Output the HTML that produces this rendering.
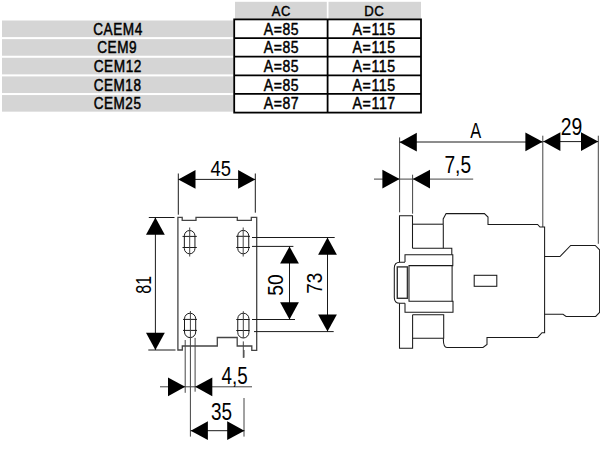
<!DOCTYPE html>
<html><head><meta charset="utf-8"><style>
html,body{margin:0;padding:0;background:#fff;width:600px;height:456px;overflow:hidden}
svg{display:block}
text{font-family:"Liberation Sans",sans-serif}
</style></head><body>
<svg width="600" height="456" viewBox="0 0 600 456">
<rect x="235" y="1.8" width="91.8" height="17.2" fill="#d5d5d5"/>
<rect x="328.5" y="1.8" width="92.5" height="17.2" fill="#d5d5d5"/>
<rect x="2" y="20.50" width="231.5" height="16.6" fill="#d5d5d5"/>
<rect x="2" y="39.14" width="231.5" height="16.6" fill="#d5d5d5"/>
<rect x="2" y="57.78" width="231.5" height="16.6" fill="#d5d5d5"/>
<rect x="2" y="76.42" width="231.5" height="16.6" fill="#d5d5d5"/>
<rect x="2" y="95.06" width="231.5" height="16.6" fill="#d5d5d5"/>
<rect x="234.2" y="19.4" width="186.8" height="93.20" fill="#fff" stroke="#000" stroke-width="1.8"/>
<line x1="234.2" y1="38.04" x2="421" y2="38.04" stroke="#000" stroke-width="1.8"/>
<line x1="234.2" y1="56.68" x2="421" y2="56.68" stroke="#000" stroke-width="1.8"/>
<line x1="234.2" y1="75.32" x2="421" y2="75.32" stroke="#000" stroke-width="1.8"/>
<line x1="234.2" y1="93.96" x2="421" y2="93.96" stroke="#000" stroke-width="1.8"/>
<line x1="327.6" y1="19.4" x2="327.6" y2="112.60" stroke="#000" stroke-width="1.8"/>
<text x="0" y="0" font-size="100" font-weight="normal" stroke="#000" stroke-width="3" letter-spacing="4" transform="matrix(0.13592,0,0,0.16438,93.206,34.671)">CAEM4</text>
<text x="0" y="0" font-size="100" font-weight="normal" stroke="#000" stroke-width="3" letter-spacing="4" transform="matrix(0.13992,0,0,0.16438,263.780,34.671)">A=85</text>
<text x="0" y="0" font-size="100" font-weight="normal" stroke="#000" stroke-width="3" letter-spacing="4" transform="matrix(0.14167,0,0,0.16667,352.583,34.667)">A=115</text>
<text x="0" y="0" font-size="100" font-weight="normal" stroke="#000" stroke-width="3" letter-spacing="4" transform="matrix(0.13604,0,0,0.16438,97.256,53.311)">CEM9</text>
<text x="0" y="0" font-size="100" font-weight="normal" stroke="#000" stroke-width="3" letter-spacing="4" transform="matrix(0.13992,0,0,0.16438,263.780,53.311)">A=85</text>
<text x="0" y="0" font-size="100" font-weight="normal" stroke="#000" stroke-width="3" letter-spacing="4" transform="matrix(0.14167,0,0,0.16667,352.583,53.307)">A=115</text>
<text x="0" y="0" font-size="100" font-weight="normal" stroke="#000" stroke-width="3" letter-spacing="4" transform="matrix(0.13655,0,0,0.16438,93.654,71.951)">CEM12</text>
<text x="0" y="0" font-size="100" font-weight="normal" stroke="#000" stroke-width="3" letter-spacing="4" transform="matrix(0.13992,0,0,0.16438,263.780,71.951)">A=85</text>
<text x="0" y="0" font-size="100" font-weight="normal" stroke="#000" stroke-width="3" letter-spacing="4" transform="matrix(0.14167,0,0,0.16667,352.583,71.947)">A=115</text>
<text x="0" y="0" font-size="100" font-weight="normal" stroke="#000" stroke-width="3" letter-spacing="4" transform="matrix(0.13538,0,0,0.16438,93.658,90.591)">CEM18</text>
<text x="0" y="0" font-size="100" font-weight="normal" stroke="#000" stroke-width="3" letter-spacing="4" transform="matrix(0.13992,0,0,0.16438,263.780,90.591)">A=85</text>
<text x="0" y="0" font-size="100" font-weight="normal" stroke="#000" stroke-width="3" letter-spacing="4" transform="matrix(0.14167,0,0,0.16667,352.583,90.587)">A=115</text>
<text x="0" y="0" font-size="100" font-weight="normal" stroke="#000" stroke-width="3" letter-spacing="4" transform="matrix(0.13528,0,0,0.16438,93.659,109.231)">CEM25</text>
<text x="0" y="0" font-size="100" font-weight="normal" stroke="#000" stroke-width="3" letter-spacing="4" transform="matrix(0.14049,0,0,0.16438,263.781,109.231)">A=87</text>
<text x="0" y="0" font-size="100" font-weight="normal" stroke="#000" stroke-width="3" letter-spacing="4" transform="matrix(0.14214,0,0,0.16667,352.584,109.393)">A=117</text>
<text x="0" y="0" font-size="100" font-weight="normal" stroke="#000" stroke-width="3" letter-spacing="4" transform="matrix(0.12937,0,0,0.15342,271.759,15.693)">AC</text>
<text x="0" y="0" font-size="100" font-weight="normal" stroke="#000" stroke-width="3" letter-spacing="4" transform="matrix(0.13165,0,0,0.15479,364.178,15.690)">DC</text>
<path d="M177.9,350 L177.9,217.3 L182.2,217.3 L182.2,220.4 L196,220.4 L196,217.3 L237.3,217.3 L237.3,220.4 L251.3,220.4 L251.3,217.3 L256.7,217.3 L256.7,350.3 L251.8,350.3 L251.8,346 L237.2,346 L237.2,337.5 L217.3,337.5 L217.3,346 L182.3,346 L182.3,350 Z" fill="none" stroke="#444" stroke-width="1.3" stroke-linejoin="miter"/>
<path d="M184.35,235.8 A5.3,5.3 0 0 1 194.95000000000002,235.8 L194.95000000000002,248.5 A5.3,5.3 0 0 1 184.35,248.5 Z" fill="none" stroke="#1a1a1a" stroke-width="1.0" stroke-linejoin="miter"/>
<path d="M237.75,235.9 A5.5,5.5 0 0 1 248.75,235.9 L248.75,248.3 A5.5,5.5 0 0 1 237.75,248.3 Z" fill="none" stroke="#1a1a1a" stroke-width="1.0" stroke-linejoin="miter"/>
<path d="M184.5,318.8 A5.6,5.6 0 0 1 195.7,318.8 L195.7,332.0 A5.6,5.6 0 0 1 184.5,332.0 Z" fill="none" stroke="#1a1a1a" stroke-width="1.0" stroke-linejoin="miter"/>
<path d="M237.75,318.8 A5.6,5.6 0 0 1 248.95,318.8 L248.95,332.4 A5.6,5.6 0 0 1 237.75,332.4 Z" fill="none" stroke="#1a1a1a" stroke-width="1.0" stroke-linejoin="miter"/>
<line x1="182.5" y1="236.4" x2="196.8" y2="236.4" stroke="#1a1a1a" stroke-width="1.0"/>
<line x1="182.5" y1="247.5" x2="196.8" y2="247.5" stroke="#1a1a1a" stroke-width="1.0"/>
<line x1="236.2" y1="236.3" x2="250" y2="236.3" stroke="#1a1a1a" stroke-width="1.0"/>
<line x1="236.2" y1="247.5" x2="250" y2="247.5" stroke="#1a1a1a" stroke-width="1.0"/>
<line x1="183" y1="319.4" x2="197" y2="319.4" stroke="#1a1a1a" stroke-width="1.0"/>
<line x1="183" y1="330.4" x2="197" y2="330.4" stroke="#1a1a1a" stroke-width="1.0"/>
<line x1="236.3" y1="319.5" x2="249.7" y2="319.5" stroke="#1a1a1a" stroke-width="1.0"/>
<line x1="236.3" y1="330.5" x2="249.7" y2="330.5" stroke="#1a1a1a" stroke-width="1.0"/>
<line x1="189.7" y1="227.5" x2="189.7" y2="256.5" stroke="#444" stroke-width="1.0"/>
<line x1="243.2" y1="227.5" x2="243.2" y2="256.5" stroke="#444" stroke-width="1.0"/>
<line x1="190.4" y1="311" x2="190.4" y2="436.6" stroke="#444" stroke-width="1.0"/>
<line x1="243.3" y1="311.2" x2="243.3" y2="338" stroke="#444" stroke-width="1.0"/>
<line x1="243.3" y1="341.4" x2="243.3" y2="357.9" stroke="#444" stroke-width="1.0"/>
<line x1="178.3" y1="173.5" x2="178.3" y2="214.7" stroke="#1a1a1a" stroke-width="1.0"/>
<line x1="255.3" y1="173.5" x2="255.3" y2="212.7" stroke="#1a1a1a" stroke-width="1.0"/>
<line x1="178.3" y1="179.4" x2="255.3" y2="179.4" stroke="#1a1a1a" stroke-width="1.0"/>
<polygon points="178.3,179.4 195.5,170.0 195.5,188.8" fill="#000"/>
<polygon points="255.3,179.4 238.10000000000002,170.0 238.10000000000002,188.8" fill="#000"/>
<line x1="148.8" y1="217.5" x2="174.5" y2="217.5" stroke="#1a1a1a" stroke-width="1.0"/>
<line x1="148.3" y1="350" x2="175.5" y2="350" stroke="#1a1a1a" stroke-width="1.0"/>
<line x1="155.4" y1="217.5" x2="155.4" y2="350" stroke="#1a1a1a" stroke-width="1.0"/>
<polygon points="155.4,217.5 146.0,234.7 164.8,234.7" fill="#000"/>
<polygon points="155.4,350 146.0,332.8 164.8,332.8" fill="#000"/>
<line x1="252" y1="237.5" x2="334.7" y2="237.5" stroke="#1a1a1a" stroke-width="1.0"/>
<line x1="252" y1="246.4" x2="293.4" y2="246.4" stroke="#1a1a1a" stroke-width="1.0"/>
<line x1="252" y1="319.5" x2="295" y2="319.5" stroke="#1a1a1a" stroke-width="1.0"/>
<line x1="254" y1="331.6" x2="333.7" y2="331.6" stroke="#1a1a1a" stroke-width="1.0"/>
<line x1="289.5" y1="246.4" x2="289.5" y2="319.5" stroke="#1a1a1a" stroke-width="1.0"/>
<polygon points="289.5,246.4 280.1,263.6 298.9,263.6" fill="#000"/>
<polygon points="289.5,319.5 280.1,302.3 298.9,302.3" fill="#000"/>
<line x1="327.5" y1="237.5" x2="327.5" y2="331.6" stroke="#1a1a1a" stroke-width="1.0"/>
<polygon points="327.5,237.5 318.1,254.7 336.9,254.7" fill="#000"/>
<polygon points="327.5,331.6 318.1,314.40000000000003 336.9,314.40000000000003" fill="#000"/>
<line x1="185.2" y1="340" x2="185.2" y2="392.8" stroke="#444" stroke-width="1.0"/>
<line x1="195.1" y1="337.9" x2="195.1" y2="391.7" stroke="#444" stroke-width="1.0"/>
<line x1="160" y1="386.8" x2="252" y2="386.8" stroke="#444" stroke-width="1.0"/>
<polygon points="185.2,386.8 168.0,377.40000000000003 168.0,396.2" fill="#000"/>
<polygon points="195.1,386.8 212.29999999999998,377.40000000000003 212.29999999999998,396.2" fill="#000"/>
<line x1="244" y1="398" x2="244" y2="436.6" stroke="#444" stroke-width="1.0"/>
<line x1="244" y1="350" x2="244" y2="357.7" stroke="#444" stroke-width="1.0"/>
<line x1="190.7" y1="430.7" x2="244.4" y2="430.7" stroke="#1a1a1a" stroke-width="1.0"/>
<polygon points="190.7,430.7 207.89999999999998,421.3 207.89999999999998,440.09999999999997" fill="#000"/>
<polygon points="244.4,430.7 227.20000000000002,421.3 227.20000000000002,440.09999999999997" fill="#000"/>
<text x="0" y="0" font-size="100" font-weight="normal" transform="matrix(0.18381,0,0,0.22143,210.432,175.879)">45</text>
<text x="0" y="0" font-size="100" font-weight="normal" transform="matrix(0,-0.15980,0.22817,0,151.272,293.739)">81</text>
<text x="0" y="0" font-size="100" font-weight="normal" transform="matrix(0,-0.19223,0.22958,0,283.070,295.769)">50</text>
<text x="0" y="0" font-size="100" font-weight="normal" transform="matrix(0,-0.18922,0.22958,0,321.570,293.646)">73</text>
<text x="0" y="0" font-size="100" font-weight="normal" transform="matrix(0.18797,0,0,0.23571,221.624,383.664)">4,5</text>
<text x="0" y="0" font-size="100" font-weight="normal" transform="matrix(0.18932,0,0,0.23099,211.043,420.069)">35</text>
<line x1="399.6" y1="137.4" x2="399.6" y2="212.3" stroke="#444" stroke-width="1.0"/>
<line x1="542.8" y1="135.7" x2="542.8" y2="227" stroke="#444" stroke-width="1.0"/>
<line x1="399.6" y1="142" x2="542.8" y2="142" stroke="#1a1a1a" stroke-width="1.0"/>
<polygon points="399.6,142.2 416.8,132.79999999999998 416.8,151.6" fill="#000"/>
<polygon points="542.6,141.8 525.4,132.4 525.4,151.20000000000002" fill="#000"/>
<text x="0" y="0" font-size="100" font-weight="normal" transform="matrix(0.16364,0,0,0.22029,470.200,138.100)">A</text>
<line x1="374" y1="179.1" x2="473.2" y2="179.1" stroke="#444" stroke-width="1.0"/>
<line x1="412.6" y1="174.7" x2="412.6" y2="213.7" stroke="#444" stroke-width="1.0"/>
<polygon points="399.6,179.1 382.40000000000003,169.7 382.40000000000003,188.5" fill="#000"/>
<polygon points="412.8,179.1 430.0,169.7 430.0,188.5" fill="#000"/>
<text x="0" y="0" font-size="100" font-weight="normal" transform="matrix(0.19154,0,0,0.23000,444.442,173.270)">7,5</text>
<line x1="598.3" y1="135.7" x2="598.3" y2="243.8" stroke="#444" stroke-width="1.0"/>
<line x1="543.2" y1="141.6" x2="598.2" y2="141.6" stroke="#1a1a1a" stroke-width="1.0"/>
<polygon points="543.2,141.6 560.4000000000001,132.2 560.4000000000001,151.0" fill="#000"/>
<polygon points="598.2,141.6 581.0,132.2 581.0,151.0" fill="#000"/>
<text x="0" y="0" font-size="100" font-weight="normal" transform="matrix(0.19307,0,0,0.23380,560.835,135.166)">29</text>
<path d="M399.5,303.3 L399.5,348.3 L412.6,348.3 L412.6,314.7" fill="none" stroke="#1a1a1a" stroke-width="1.05" stroke-linejoin="miter"/>
<path d="M399.5,262 L399.5,215.8 L412.5,215.8 L412.5,248.2" fill="none" stroke="#1a1a1a" stroke-width="1.05" stroke-linejoin="miter"/>
<path d="M412.5,224.2 L443.2,224.2" fill="none" stroke="#1a1a1a" stroke-width="1.05" stroke-linejoin="miter"/>
<path d="M412.5,248.2 L451.8,248.2 L451.8,254.7" fill="none" stroke="#1a1a1a" stroke-width="1.05" stroke-linejoin="miter"/>
<path d="M412.6,314.7 L443.7,314.7 L443.7,338.3 L412.6,338.3" fill="none" stroke="#1a1a1a" stroke-width="1.05" stroke-linejoin="miter"/>
<path d="M405,262 L405,254.7 L452.8,254.7 L452.8,265.6 L409,265.6 L409,301.3 L453,301.3 L453,312.3 L405,312.3 L405,303.3" fill="none" stroke="#1a1a1a" stroke-width="1.05" stroke-linejoin="miter"/>
<path d="M405,262.2 L400,262.2 Q394.3,262.2 394.3,268 L394.3,297.5 Q394.3,303.3 400,303.3 L405,303.3" fill="none" stroke="#1a1a1a" stroke-width="1.05" stroke-linejoin="miter"/>
<rect x="397.3" y="266.9" width="10.1" height="31.4" fill="none" stroke="#333" stroke-width="1.4"/>
<path d="M443.2,224.2 L443.2,219 L446.1,213.6 L484.4,213.6 L488,217 L488,224.4 L537.6,224.4 L540,227 L544.6,227 L544.6,332.7 L542,332.7 L537.7,337.4 L487,337.4 L487,344.4 L483,347.4 L447,347.4 Q443.4,347.4 443.4,340 L443.4,338.3" fill="none" stroke="#1a1a1a" stroke-width="1.05" stroke-linejoin="miter"/>
<path d="M443.3,224.2 L443.3,248.2" fill="none" stroke="#1a1a1a" stroke-width="1.05" stroke-linejoin="miter"/>
<path d="M452.1,265.6 L452.1,301.3" fill="none" stroke="#1a1a1a" stroke-width="1.05" stroke-linejoin="miter"/>
<rect x="474.2" y="275.3" width="22.6" height="11" fill="none" stroke="#1a1a1a" stroke-width="1.05"/>
<path d="M544.6,256.5 L560,256.5 L570.7,245.5 L595.2,245.5 L599.6,249.9 L599.6,312.3 L595.7,316.4 L566.1,316.4 L563,314.3 L544.6,314.3" fill="none" stroke="#1a1a1a" stroke-width="1.05" stroke-linejoin="miter"/>
</svg>
</body></html>
